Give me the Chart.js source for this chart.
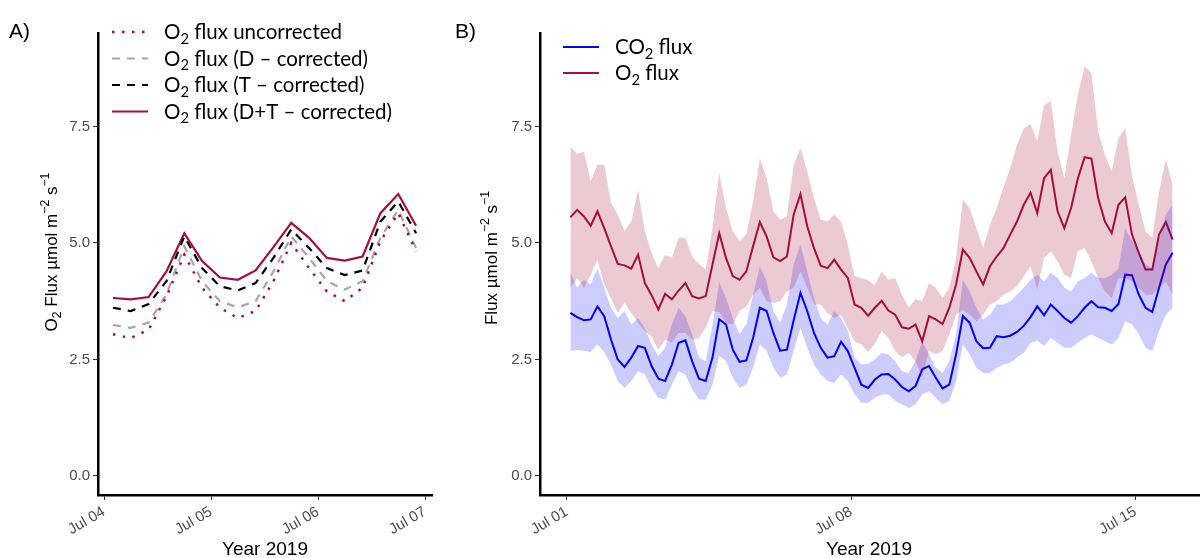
<!DOCTYPE html>
<html>
<head>
<meta charset="utf-8">
<script src="https://cdn.jsdelivr.net/npm/chart.js@4.4.1/dist/chart.umd.min.js"></script>
<style>
  html, body { margin: 0; padding: 0; background: #fff; }
  #wrap { position: relative; width: 1200px; height: 558px; overflow: hidden; }
  canvas { position: absolute; top: 0; }
  #cA { left: 0; }
  #cB { left: 450px; }
</style>
</head>
<body>
<div id="wrap">
  <canvas id="cA" width="450" height="558"></canvas>
  <canvas id="cB" width="750" height="558"></canvas>
</div>
<script>
// ── Panel A: 4-hourly O2 flux, Jul 04–06 ─────────────────
const hoursA = [2, 6, 10, 14, 18, 22, 26, 30, 34, 38, 42, 46, 50, 54, 58, 62, 66, 70];
const o2Uncorr = [3.04, 2.96, 3.14, 3.85, 4.75, 4.04, 3.61, 3.39, 3.54, 4.18, 5.00, 4.46, 3.96, 3.75, 4.04, 5.04, 5.64, 4.82];
const o2DCorr  = [3.24, 3.18, 3.29, 3.89, 4.93, 4.18, 3.75, 3.62, 3.75, 4.39, 5.14, 4.68, 4.18, 4.00, 4.18, 5.11, 5.71, 4.89];
const o2TCorr  = [3.61, 3.54, 3.69, 4.18, 5.14, 4.46, 4.07, 3.98, 4.14, 4.68, 5.29, 4.89, 4.46, 4.31, 4.41, 5.46, 5.89, 5.21];
const o2DTCorr = [3.82, 3.79, 3.84, 4.39, 5.21, 4.61, 4.26, 4.21, 4.41, 4.91, 5.43, 5.11, 4.68, 4.62, 4.71, 5.64, 6.05, 5.37];
const tickHoursA = [0, 24, 48, 72];
const tickLabelsA = ['Jul 04', 'Jul 05', 'Jul 06', 'Jul 07'];

// ── Panel B: 4-hourly fluxes with bands, Jul 01–15 ───────
const o2B = [
  5.55, 5.71, 5.57, 5.37, 5.68, 5.32, 4.93, 4.55, 4.52, 4.45, 4.75, 4.14, 3.88, 3.57, 3.91, 3.79, 3.98, 4.14, 3.86, 3.81, 3.86, 4.54, 5.21,
  4.68, 4.29, 4.21, 4.39, 4.93, 5.45, 5.14, 4.69, 4.61, 4.71, 5.61, 6.05, 5.36, 4.89, 4.51, 4.46, 4.64, 4.43, 4.25, 3.68, 3.61, 3.44, 3.61,
  3.76, 3.55, 3.46, 3.19, 3.16, 3.25, 2.89, 3.43, 3.36, 3.26, 3.61, 4.11, 4.86, 4.68, 4.39, 4.11, 4.50, 4.71, 4.89, 5.18, 5.46, 5.82, 6.08,
  5.64, 6.39, 6.57, 5.68, 5.32, 5.75, 6.39, 6.84, 6.81, 5.96, 5.46, 5.21, 5.82, 5.98, 5.18, 4.79, 4.43, 4.43, 5.18, 5.45, 5.07
];
const o2HiB = [
  7.07, 6.91, 6.96, 6.32, 6.68, 6.68, 5.86, 5.61, 5.26, 5.46, 6.14, 5.25, 4.79, 4.46, 4.75, 4.68, 5.11, 5.11, 4.71, 4.55, 4.43, 5.32, 6.50,
  5.75, 5.25, 5.04, 5.18, 5.89, 6.82, 6.39, 5.68, 5.50, 5.57, 6.68, 7.04, 6.54, 5.96, 5.50, 5.46, 5.61, 5.46, 4.96, 4.29, 4.25, 4.20, 4.10,
  4.39, 4.21, 4.25, 3.89, 3.61, 3.79, 3.75, 4.14, 4.04, 3.82, 4.04, 4.68, 5.93, 5.75, 5.32, 4.89, 5.39, 5.75, 6.18, 6.61, 7.11, 7.45, 7.56,
  7.18, 7.96, 8.04, 6.96, 6.39, 7.32, 8.18, 8.79, 8.64, 7.39, 6.89, 6.54, 7.25, 7.46, 6.43, 5.82, 5.25, 5.11, 6.11, 6.79, 6.25
];
const o2LoB = [
  4.04, 4.25, 4.04, 4.32, 4.64, 4.11, 3.82, 3.50, 3.71, 3.50, 3.29, 3.11, 3.00, 2.71, 2.93, 2.86, 3.07, 3.07, 2.93, 2.96, 3.18, 3.54, 3.52,
  3.29, 3.25, 3.54, 3.64, 3.89, 4.04, 3.75, 3.71, 3.75, 3.96, 4.04, 4.39, 4.04, 3.68, 3.68, 3.50, 3.39, 3.46, 3.18, 2.89, 2.82, 2.66, 2.84,
  3.11, 2.96, 2.68, 2.54, 2.64, 2.46, 2.11, 2.68, 2.61, 2.68, 3.04, 3.46, 3.57, 3.46, 3.32, 3.46, 3.68, 3.75, 3.89, 3.96, 4.07, 4.28, 4.50,
  4.00, 4.68, 4.82, 4.60, 4.32, 4.25, 4.82, 4.89, 4.61, 4.25, 3.96, 3.82, 4.25, 4.25, 4.18, 4.04, 3.89, 3.89, 4.04, 4.18, 3.89
];
const co2B = [
  3.50, 3.41, 3.34, 3.36, 3.64, 3.43, 2.93, 2.50, 2.34, 2.54, 2.79, 2.75, 2.36, 2.09, 2.04, 2.39, 2.86, 2.91, 2.46, 2.09, 2.04, 2.54, 3.36,
  3.25, 2.71, 2.45, 2.48, 2.96, 3.61, 3.54, 3.07, 2.69, 2.71, 3.34, 3.93, 3.54, 3.07, 2.75, 2.54, 2.57, 2.88, 2.68, 2.32, 1.96, 1.89, 2.07,
  2.18, 2.19, 2.07, 1.91, 1.82, 1.93, 2.29, 2.36, 2.11, 1.88, 1.96, 2.61, 3.43, 3.29, 2.89, 2.74, 2.75, 3.00, 2.98, 3.01, 3.09, 3.22, 3.41,
  3.64, 3.45, 3.68, 3.54, 3.39, 3.29, 3.43, 3.61, 3.75, 3.62, 3.61, 3.54, 3.69, 4.32, 4.31, 3.89, 3.61, 3.52, 4.04, 4.54, 4.79
];
const co2HiB = [
  4.36, 4.04, 4.21, 4.11, 4.46, 4.04, 3.61, 3.39, 3.54, 3.25, 3.39, 3.18, 2.82, 2.57, 2.75, 3.25, 3.61, 3.43, 3.04, 2.54, 2.46, 3.25, 4.16,
  3.82, 3.39, 3.04, 3.25, 3.89, 4.50, 4.18, 3.54, 3.29, 3.68, 4.54, 4.96, 4.39, 3.82, 3.39, 3.25, 3.54, 3.39, 3.11, 2.54, 2.39, 2.41, 2.50,
  2.64, 2.61, 2.46, 2.25, 2.21, 2.46, 2.89, 2.61, 2.32, 2.21, 2.46, 3.04, 4.21, 3.96, 3.61, 3.36, 3.46, 3.68, 3.68, 3.75, 3.89, 4.04, 4.21,
  4.32, 4.18, 4.36, 4.25, 4.04, 3.96, 4.18, 4.25, 4.36, 4.25, 4.25, 4.32, 4.46, 5.32, 5.04, 4.82, 4.54, 4.46, 5.04, 5.61, 5.82
];
const co2LoB = [
  2.68, 2.71, 2.68, 2.66, 2.82, 2.66, 2.39, 2.04, 1.89, 2.04, 2.25, 2.18, 1.89, 1.68, 1.64, 1.96, 2.25, 2.18, 1.86, 1.64, 1.64, 1.96, 2.58,
  2.46, 2.11, 1.89, 1.96, 2.32, 2.82, 2.68, 2.32, 2.11, 2.18, 2.68, 3.18, 2.75, 2.39, 2.18, 2.04, 2.00, 2.18, 2.04, 1.75, 1.57, 1.57, 1.68,
  1.75, 1.75, 1.61, 1.54, 1.46, 1.54, 1.75, 1.82, 1.68, 1.54, 1.61, 2.04, 2.82, 2.61, 2.32, 2.21, 2.21, 2.32, 2.39, 2.43, 2.54, 2.64, 2.86,
  2.91, 2.79, 2.96, 2.86, 2.75, 2.75, 2.86, 2.96, 3.04, 2.96, 2.89, 2.82, 2.96, 3.32, 3.25, 3.04, 2.75, 2.68, 3.11, 3.46, 3.61
];
const hoursB = o2B.map((_, i) => 2 + 4 * i); // hours after Jul 01 00:00
const tickHoursB = [0, 168, 336];
const tickLabelsB = ['Jul 01', 'Jul 08', 'Jul 15'];
const yTicks = [0, 2.5, 5, 7.5];

const SANS = "'Liberation Sans', Arial, sans-serif";
const LEG = "Lato, 'Open Sans', sans-serif";
const CRIMSON = '#a50f3c';
const BLUE = '#0000ff';

const xy = (xs, ys) => ys.map((y, i) => ({ x: xs[i], y }));

function richWidth(ctx, parts, size, fam) {
  let w = 0;
  parts.forEach(([t, k]) => {
    ctx.font = (k ? size * 0.72 : size) + 'px ' + fam;
    w += ctx.measureText(t).width;
  });
  return w;
}
function drawRich(ctx, parts, x, y, size, fam, color) {
  ctx.fillStyle = color;
  ctx.textAlign = 'left';
  ctx.textBaseline = 'alphabetic';
  parts.forEach(([t, k]) => {
    ctx.font = (k ? size * 0.72 : size) + 'px ' + fam;
    const dy = k === 'sub' ? size * 0.22 : k === 'sup' ? -size * 0.45 : 0;
    ctx.fillText(t, x, y + dy);
    x += ctx.measureText(t).width;
  });
}

// titles, panel letter and legend are drawn here so sub/superscripts work
function textPlugin(cfg) {
  return {
    id: 'panelText' + cfg.letter,
    afterDraw(chart) {
      const ctx = chart.ctx;
      ctx.save();
      drawRich(ctx, [[cfg.letter, '']], cfg.letterX, 38, 21, SANS, '#000');
      const xt = [['Year 2019', '']];
      drawRich(ctx, xt, cfg.xTitleX - richWidth(ctx, xt, 19, SANS) / 2, 555, 19, SANS, '#000');
      ctx.save();
      ctx.translate(cfg.yTitleX, cfg.yTitleY);
      ctx.rotate(-Math.PI / 2);
      drawRich(ctx, cfg.yTitle, -richWidth(ctx, cfg.yTitle, 17, SANS) / 2, 0, 17, SANS, '#000');
      ctx.restore();
      cfg.legend.forEach((it, i) => {
        const ds = chart.data.datasets[it.ds];
        const y = cfg.legY + i * cfg.legStep;
        ctx.beginPath();
        ctx.strokeStyle = ds.borderColor;
        ctx.lineWidth = ds.borderWidth;
        ctx.setLineDash(ds.borderDash || []);
        ctx.moveTo(cfg.legX, y);
        ctx.lineTo(cfg.legX + 36, y);
        ctx.stroke();
        ctx.setLineDash([]);
        drawRich(ctx, it.text, cfg.legX + 52, y + 7, 20.5, LEG, '#000');
      });
      ctx.restore();
    }
  };
}

function axes(xMin, xMax, xTicks, xLabels, yWidth) {
  const tickFont = { family: SANS, size: 15 };
  return {
    x: {
      type: 'linear', min: xMin, max: xMax,
      afterBuildTicks: s => { s.ticks = xTicks.map(v => ({ value: v })); },
      afterFit: s => { s.height = 63; },
      ticks: {
        autoSkip: false, minRotation: 30, maxRotation: 30, padding: 3,
        color: '#4d4d4d', font: tickFont,
        callback: v => xLabels[xTicks.indexOf(v)]
      },
      grid: { drawOnChartArea: false, drawTicks: true, tickLength: 5, color: '#333' },
      border: { display: true, color: '#000', width: 2.5 }
    },
    y: {
      min: -0.408, max: 9.506,
      afterBuildTicks: s => { s.ticks = yTicks.map(v => ({ value: v })); },
      afterFit: s => { s.width = yWidth; },
      ticks: { color: '#4d4d4d', font: tickFont, padding: 3, callback: v => v.toFixed(1) },
      grid: { drawOnChartArea: false, drawTicks: true, tickLength: 5, color: '#333' },
      border: { display: true, color: '#000', width: 2.5 }
    }
  };
}

const common = {
  responsive: false, animation: false, devicePixelRatio: 1,
  plugins: { legend: { display: false }, tooltip: { enabled: false } },
  elements: { point: { radius: 0 }, line: { tension: 0 } }
};

new Chart(document.getElementById('cA'), {
  type: 'line',
  data: {
    datasets: [
      { label: 'uncorrected', data: xy(hoursA, o2Uncorr), borderColor: CRIMSON, borderWidth: 2.5, borderDash: [2.5, 7.5] },
      { label: 'D', data: xy(hoursA, o2DCorr), borderColor: '#a6a6a6', borderWidth: 2.2, borderDash: [8, 7] },
      { label: 'T', data: xy(hoursA, o2TCorr), borderColor: '#000', borderWidth: 2.2, borderDash: [8, 7] },
      { label: 'D+T', data: xy(hoursA, o2DTCorr), borderColor: CRIMSON, borderWidth: 2.2 }
    ]
  },
  options: Object.assign({}, common, {
    layout: { padding: { top: 33, right: 18, left: 0, bottom: 0 } },
    scales: axes(-1.35, 73.57, tickHoursA, tickLabelsA, 98)
  }),
  plugins: [textPlugin({
    letter: 'A)', letterX: 9, xTitleX: 265, yTitleX: 57, yTitleY: 252,
    yTitle: [['O', ''], ['2', 'sub'], [' Flux µmol m', ''], ['−2', 'sup'], [' s', ''], ['−1', 'sup']],
    legX: 112, legY: 32, legStep: 26.5,
    legend: [
      { ds: 0, text: [['O', ''], ['2', 'sub'], [' flux uncorrected', '']] },
      { ds: 1, text: [['O', ''], ['2', 'sub'], [' flux (D – corrected)', '']] },
      { ds: 2, text: [['O', ''], ['2', 'sub'], [' flux (T – corrected)', '']] },
      { ds: 3, text: [['O', ''], ['2', 'sub'], [' flux (D+T – corrected)', '']] }
    ]
  })]
});

new Chart(document.getElementById('cB'), {
  type: 'line',
  data: {
    datasets: [
      { label: 'O2 hi', data: xy(hoursB, o2HiB), borderWidth: 0, borderColor: 'transparent', backgroundColor: 'rgba(165,15,60,0.22)', fill: '+1' },
      { label: 'O2 lo', data: xy(hoursB, o2LoB), borderWidth: 0, borderColor: 'transparent', fill: false },
      { label: 'CO2 hi', data: xy(hoursB, co2HiB), borderWidth: 0, borderColor: 'transparent', backgroundColor: 'rgba(0,0,255,0.2)', fill: '+1' },
      { label: 'CO2 lo', data: xy(hoursB, co2LoB), borderWidth: 0, borderColor: 'transparent', fill: false },
      { label: 'CO2 flux', data: xy(hoursB, co2B), borderColor: BLUE, borderWidth: 2 },
      { label: 'O2 flux', data: xy(hoursB, o2B), borderColor: CRIMSON, borderWidth: 2 }
    ]
  },
  options: Object.assign({}, common, {
    layout: { padding: { top: 33, right: 0, left: 0, bottom: 0 } },
    scales: axes(-15.96, 374.2, tickHoursB, tickLabelsB, 90)
  }),
  plugins: [textPlugin({
    letter: 'B)', letterX: 5, xTitleX: 419, yTitleX: 47, yTitleY: 258,
    yTitle: [['Flux µmol m', ''], ['−2', 'sup'], [' s', ''], ['−1', 'sup']],
    legX: 113, legY: 47, legStep: 26,
    legend: [
      { ds: 4, text: [['CO', ''], ['2', 'sub'], [' flux', '']] },
      { ds: 5, text: [['O', ''], ['2', 'sub'], [' flux', '']] }
    ]
  })]
});
</script>
</body>
</html>
